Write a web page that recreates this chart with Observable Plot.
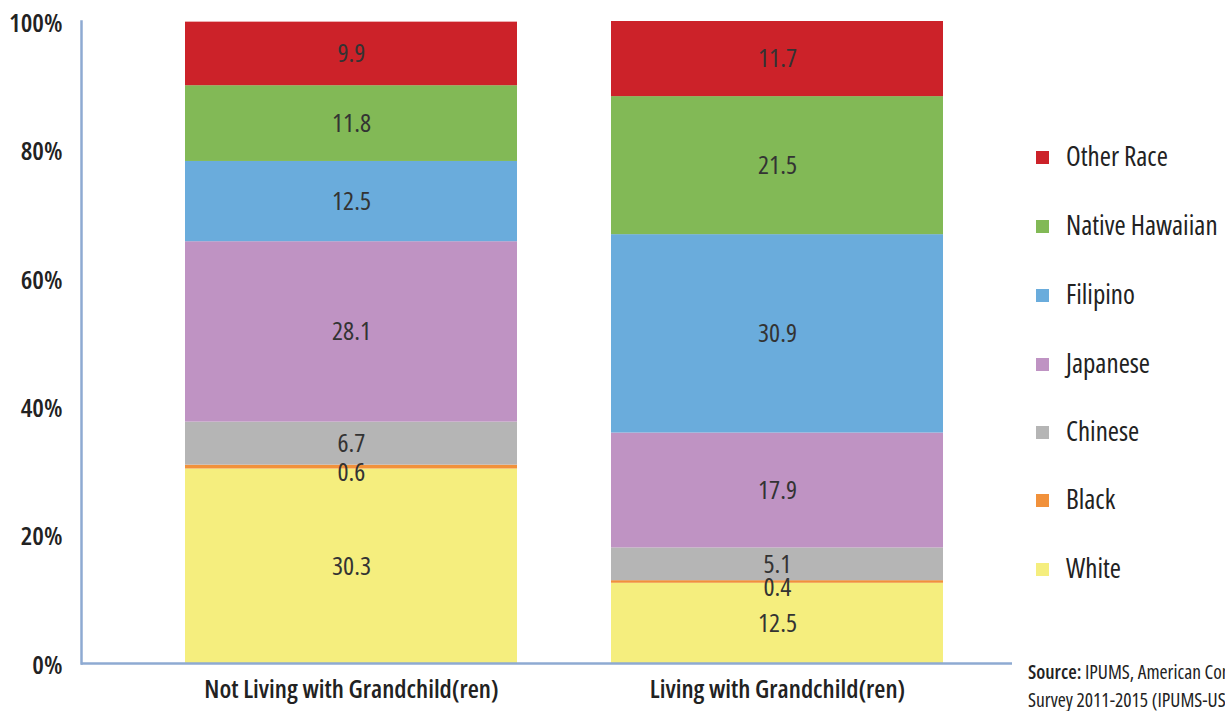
<!DOCTYPE html>
<html>
<head>
<meta charset="utf-8">
<script src="https://cdn.jsdelivr.net/npm/d3@7"></script>
<script src="https://cdn.jsdelivr.net/npm/@observablehq/plot@0.6"></script>
<style>
  html, body { margin: 0; padding: 0; background: #fff; width: 1225px; height: 711px; overflow: hidden; }
  body { position: relative; font-family: "Open Sans", sans-serif; font-stretch: 75%; color: #222; }
  #chart { position: absolute; left: 0; top: 0; }
  #chart svg, #chart svg text { font-family: "Open Sans", sans-serif !important; font-stretch: 75% !important; }
  #legend { position: absolute; left: 1036px; top: 0; }
  .li { position: absolute; left: 0; white-space: nowrap; font-size: 27px; font-weight: 500; line-height: 30px; height: 30px; }
  .sw { position: absolute; left: 0; top: 9px; width: 13px; height: 13px; }
  .lt { position: absolute; left: 30px; top: -1px; }
  #source { position: absolute; left: 1028px; top: 658px; font-size: 19.5px; line-height: 28px; white-space: nowrap; color: #222; }
  #source b { font-weight: 600; }
</style>
</head>
<body>
<div id="chart"></div>
<div id="legend"></div>
<div id="source"><b>Source:</b> IPUMS, American Community<br>Survey 2011-2015 (IPUMS-USA)</div>
<script>
const groups = ["Not Living with Grandchild(ren)", "Living with Grandchild(ren)"];
const races = ["White", "Black", "Chinese", "Japanese", "Filipino", "Native Hawaiian", "Other Race"];
const notLiving = [30.3, 0.6, 6.7, 28.1, 12.5, 11.8, 9.9];
const living = [12.5, 0.4, 5.1, 17.9, 30.9, 21.5, 11.7];
const colors = ["#f5ee7e", "#f1913b", "#b5b5b5", "#bf93c3", "#6aacdc", "#82b956", "#cc2229"];
const yTicks = [0, 20, 40, 60, 80, 100];

const data = [];
races.forEach((r, i) => {
  data.push({group: groups[0], race: r, value: notLiving[i]});
  data.push({group: groups[1], race: r, value: living[i]});
});

const font = '"Open Sans", sans-serif';
const axisColor = "#8eaad2";
const stackOpts = {x: "group", y: "value", z: "race", order: races};
const labelText = d => d.value >= 1 ? d.value.toFixed(1) : "";
const smallText = d => d.value < 1 ? d.value.toFixed(1) : "";

const plot = Plot.plot({
  width: 1225,
  height: 711,
  marginLeft: 81,
  marginRight: 213,
  marginTop: 21,
  marginBottom: 48,
  style: {fontFamily: font, fontStretch: "75%", background: "transparent", overflow: "visible"},
  x: {domain: groups, range: [138, 991], paddingInner: 0.22, paddingOuter: 0.11, label: null},
  y: {domain: [0, 100], label: null},
  color: {domain: races, range: colors},
  marks: [
    Plot.barY(data, Plot.stackY({...stackOpts, fill: "race"})),
    Plot.text(data, Plot.stackY({...stackOpts, text: labelText, fill: "#333", fontSize: 26})),
    Plot.text(data, Plot.stackY({...stackOpts, text: smallText, fill: "#333", fontSize: 26, dy: 6})),
    Plot.axisY({ticks: yTicks, tickFormat: d => d + "%", tickSize: 0, tickPadding: 19,
      fontSize: 26, fontWeight: 600, fill: "#222", dy: 2}),
    Plot.axisX({tickSize: 0, tickPadding: 16, fontSize: 25.5, fontWeight: 600, fill: "#222"}),
    Plot.frame({anchor: "left", stroke: axisColor, strokeWidth: 2.5}),
    Plot.ruleY([0], {stroke: axisColor, strokeWidth: 2.5})
  ]
});
document.getElementById("chart").appendChild(plot);

// legend, top to bottom = reverse of stack order
const legend = document.getElementById("legend");
const rowsTop = [142, 211, 280, 349, 417, 485, 554];
races.slice().reverse().forEach((r, i) => {
  const ci = races.indexOf(r);
  const row = document.createElement("div");
  row.className = "li";
  row.style.top = rowsTop[i] + "px";
  row.innerHTML = `<span class="sw" style="background:${colors[ci]}"></span><span class="lt">${r}</span>`;
  legend.appendChild(row);
});
</script>
</body>
</html>
